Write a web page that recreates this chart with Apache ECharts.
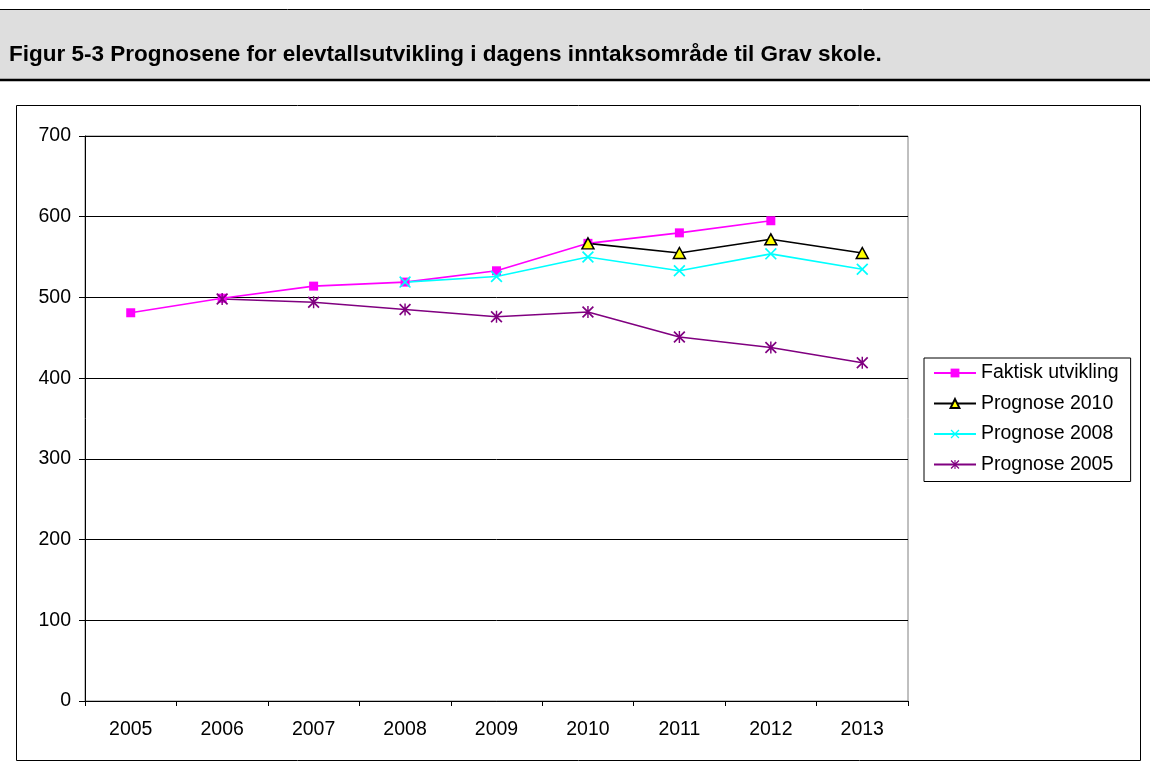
<!DOCTYPE html>
<html>
<head>
<meta charset="utf-8">
<script src="https://cdn.jsdelivr.net/npm/echarts@6/dist/echarts.min.js"></script>
<style>
html,body{margin:0;padding:0;background:#fff;}
#c{width:1150px;height:764px;}
</style>
</head>
<body>
<div id="c"></div>
<script>
var titleText = 'Figur 5-3 Prognosene for elevtallsutvikling i dagens inntaksområde til Grav skole.';
var years = ['2005','2006','2007','2008','2009','2010','2011','2012','2013'];
var faktisk   = [481, 499, 514, 519, 533, 567, 580, 595, null];
var prog2010  = [null, null, null, null, null, 567, 555, 572, 555];
var prog2008  = [null, null, null, 519, 526, 550, 533, 554, 535];
var prog2005  = [null, 498, 494, 485, 476, 482, 451, 438, 419];
var seriesNames = ['Faktisk utvikling','Prognose 2010','Prognose 2008','Prognose 2005'];

var xPath = 'path://M0,1 L1,0 L5,4 L9,0 L10,1 L6,5 L10,9 L9,10 L5,6 L1,10 L0,9 L4,5 Z';
var starPath = 'path://M0,1 L1,0 L5,4 L9,0 L10,1 L6,5 L10,9 L9,10 L5,6 L1,10 L0,9 L4,5 Z M4.4,0 L5.6,0 L5.6,10 L4.4,10 Z';

var font = 'Liberation Sans, Arial, Helvetica, sans-serif';
var chart = echarts.init(document.getElementById('c'));
chart.setOption({
  animation: false,
  backgroundColor: '#fff',
  graphic: [
    { type: 'rect', z: -10, shape: { x: 0, y: 10, width: 1150, height: 70 }, style: { fill: '#dedede' } },
    { type: 'line', z: -9, shape: { x1: 0, y1: 9.5, x2: 1150, y2: 9.5 }, style: { stroke: '#000', lineWidth: 1 } },
    { type: 'line', z: -9, shape: { x1: 0, y1: 80, x2: 1150, y2: 80 }, style: { stroke: '#000', lineWidth: 2.5 } },
    { type: 'rect', z: -9, shape: { x: 16.5, y: 105.5, width: 1124, height: 655 }, style: { fill: 'none', stroke: '#000', lineWidth: 1 } }
  ],
  title: {
    text: titleText,
    left: 9, top: 43,
    padding: 0,
    textStyle: { fontFamily: font, fontWeight: 'bold', fontSize: 22.5, color: '#000' }
  },
  legend: {
    orient: 'vertical',
    left: 924, top: 358,
    padding: [5, 12, 7, 9],
    itemGap: 10.5,
    itemWidth: 42,
    itemHeight: 11,
    borderColor: '#000',
    borderWidth: 1,
    data: seriesNames,
    textStyle: { fontFamily: font, fontSize: 19.5, color: '#000', lineHeight: 20 }
  },
  grid: {
    left: 85, right: 242, top: 136, bottom: 63,
    show: true, borderColor: '#808080', borderWidth: 1
  },
  xAxis: {
    type: 'category',
    data: years,
    boundaryGap: true,
    axisLine: { lineStyle: { color: '#000', width: 1 } },
    axisTick: { show: true, length: 5, lineStyle: { color: '#000' } },
    axisLabel: { color: '#000', fontFamily: font, fontSize: 19.5, margin: 19 },
    splitLine: { show: false }
  },
  yAxis: {
    type: 'value',
    min: 0, max: 700, interval: 100,
    axisLine: { show: true, lineStyle: { color: '#000', width: 1 } },
    axisTick: { show: true, length: 6, lineStyle: { color: '#000' } },
    axisLabel: { color: '#000', fontFamily: font, fontSize: 19.5, margin: 14 },
    splitLine: { show: true, lineStyle: { color: '#000', width: 1 } }
  },
  series: [
    {
      name: seriesNames[0], type: 'line', data: faktisk,
      symbol: 'rect', symbolSize: 9,
      lineStyle: { color: '#ff00ff', width: 1.6 },
      itemStyle: { color: '#ff00ff', borderWidth: 0 }
    },
    {
      name: seriesNames[1], type: 'line', data: prog2010,
      symbol: 'triangle', symbolSize: [12, 11],
      lineStyle: { color: '#000', width: 1.6 },
      itemStyle: { color: '#ffff00', borderColor: '#000', borderWidth: 1.5 }
    },
    {
      name: seriesNames[2], type: 'line', data: prog2008,
      symbol: xPath, symbolSize: 12,
      lineStyle: { color: '#00ffff', width: 1.6 },
      itemStyle: { color: '#00ffff', borderWidth: 0 }
    },
    {
      name: seriesNames[3], type: 'line', data: prog2005,
      symbol: starPath, symbolSize: 12,
      lineStyle: { color: '#800080', width: 1.6 },
      itemStyle: { color: '#800080', borderWidth: 0 }
    }
  ]
});
</script>
</body>
</html>
